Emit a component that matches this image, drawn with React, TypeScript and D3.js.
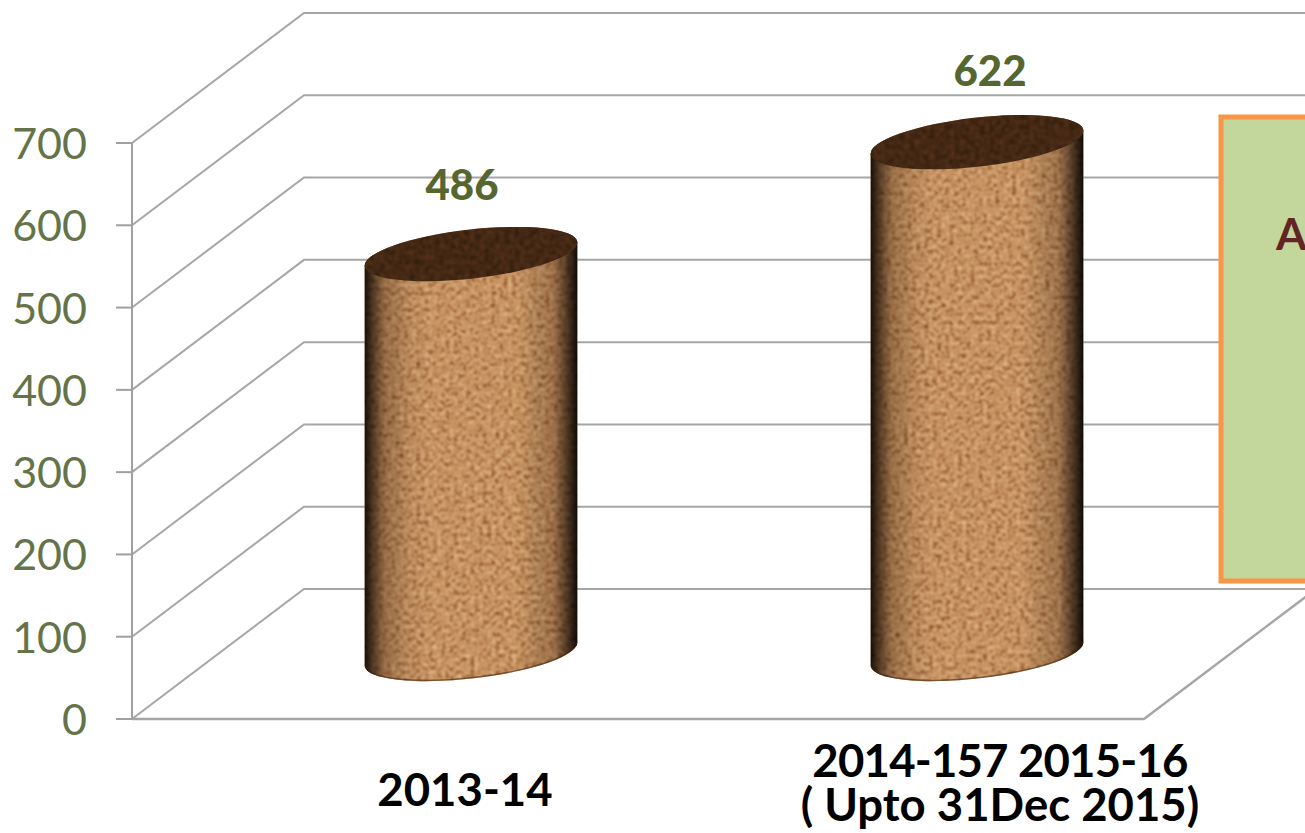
import React from "react";
import * as d3 from "d3";

const categories = ["2013-14", "2014-157 2015-16"];
const categorySecondLine = ["", "( Upto 31Dec 2015)"];
const values = [486, 622];
const yTicks = [0, 100, 200, 300, 400, 500, 600, 700];
const boxLetter = "A";

const W = 1305, H = 833;
const FONT = "Lato, Carlito, 'Open Sans', sans-serif";
const depthX = 172, depthY = -130;
const RX = 107, RY = 24.5, TILT = -6.5;

const y = d3.scaleLinear().domain([0, 700]).range([719, 143]);
const x = d3.scaleBand<string>().domain(categories).range([132, 1144]);

const labelDx = [-9, 13];
const labelDy = [-55, -57];
const catCx = [465, 1000];

function endpoints() {
  const a = (TILT * Math.PI) / 180;
  return { dx: RX * Math.cos(a), dy: RX * Math.sin(a) };
}

function body(cx: number, topY: number, botY: number) {
  const { dx, dy } = endpoints();
  return [
    `M${cx - dx},${topY - dy}`,
    `L${cx - dx},${botY - dy}`,
    `A${RX},${RY} ${TILT} 0 0 ${cx + dx},${botY + dy}`,
    `L${cx + dx},${topY + dy}`,
    `A${RX},${RY} ${TILT} 0 0 ${cx - dx},${topY - dy}`,
    "Z",
  ].join("");
}

function bottomArc(cx: number, botY: number) {
  const { dx, dy } = endpoints();
  return `M${cx - dx},${botY - dy}A${RX},${RY} ${TILT} 0 0 ${cx + dx},${botY + dy}`;
}

export default function App() {
  const grid = d3.path();
  yTicks.forEach((t) => {
    const yy = y(t);
    grid.moveTo(132, yy);
    grid.lineTo(132 + depthX, yy + depthY);
    grid.lineTo(1144 + depthX, yy + depthY);
  });
  const floor = d3.path();
  floor.moveTo(132, y(0));
  floor.lineTo(1144, y(0));
  floor.lineTo(1144 + depthX, y(0) + depthY);

  return (
    <svg
      width={W}
      height={H}
      viewBox={`0 0 ${W} ${H}`}
      style={{ position: "absolute", left: 0, top: 0, background: "#fff", display: "block" }}
    >
      <defs>
        <filter id="cork" x="0" y="0" width="100%" height="100%" colorInterpolationFilters="sRGB">
          <feTurbulence type="fractalNoise" baseFrequency="0.24" numOctaves={5} seed={11} />
          <feColorMatrix
            type="matrix"
            values="1 0 0 0 0  1 0 0 0 0  1 0 0 0 0  0 0 0 0 1"
          />
          <feComponentTransfer>
            <feFuncR type="table" tableValues="0.40 0.46 0.58 0.72 0.78 0.82 0.86 0.92 0.97" />
            <feFuncG type="table" tableValues="0.20 0.24 0.36 0.50 0.58 0.63 0.69 0.77 0.85" />
            <feFuncB type="table" tableValues="0.09 0.11 0.19 0.31 0.39 0.44 0.50 0.59 0.68" />
          </feComponentTransfer>
          <feGaussianBlur stdDeviation="0.8" />
        </filter>
        <filter id="corkDark" x="0" y="0" width="100%" height="100%" colorInterpolationFilters="sRGB">
          <feTurbulence type="fractalNoise" baseFrequency="0.2" numOctaves={3} seed={3} />
          <feColorMatrix
            type="matrix"
            values="1 0 0 0 0  1 0 0 0 0  1 0 0 0 0  0 0 0 0 1"
          />
          <feComponentTransfer>
            <feFuncR type="table" tableValues="0.14 0.20 0.27 0.33 0.40" />
            <feFuncG type="table" tableValues="0.08 0.12 0.16 0.19 0.22" />
            <feFuncB type="table" tableValues="0.04 0.06 0.08 0.10 0.12" />
          </feComponentTransfer>
          <feGaussianBlur stdDeviation="0.8" />
        </filter>
        <linearGradient id="shade" x1="0" x2="1" y1="0" y2="0">
          <stop offset="0" stopColor="#000" stopOpacity={0.92} />
          <stop offset="0.035" stopColor="#140a03" stopOpacity={0.72} />
          <stop offset="0.1" stopColor="#2a1506" stopOpacity={0.3} />
          <stop offset="0.22" stopColor="#2a1506" stopOpacity={0.06} />
          <stop offset="0.3" stopColor="#000" stopOpacity={0} />
          <stop offset="0.72" stopColor="#000" stopOpacity={0} />
          <stop offset="0.88" stopColor="#2a1506" stopOpacity={0.25} />
          <stop offset="0.96" stopColor="#0d0602" stopOpacity={0.72} />
          <stop offset="1" stopColor="#000" stopOpacity={0.95} />
        </linearGradient>
        {values.map((v, i) => {
          const cx = x(categories[i])! + x.bandwidth() / 2 + depthX / 2;
          return (
            <clipPath id={`body${i}`} key={i}>
              <path d={body(cx, y(v) + depthY / 2, y(0) + depthY / 2)} />
            </clipPath>
          );
        })}
      </defs>

      <path d={grid.toString()} fill="none" stroke="#a6a6a6" strokeWidth={2} />
      <path d={floor.toString()} fill="none" stroke="#a6a6a6" strokeWidth={2.5} />
      <line x1={132} x2={132} y1={y(700)} y2={y(0)} stroke="#a0a0a0" strokeWidth={2} />

      {yTicks.map((t) => (
        <g key={t}>
          <line x1={116} x2={132} y1={y(t)} y2={y(t)} stroke="#a0a0a0" strokeWidth={2} />
          <text
            x={87}
            y={y(t) + 16}
            textAnchor="end"
            fontFamily={FONT}
            fontSize={43}
            fill="#647348"
          >
            {t}
          </text>
        </g>
      ))}

      {values.map((v, i) => {
        const cx = x(categories[i])! + x.bandwidth() / 2 + depthX / 2;
        const topY = y(v) + depthY / 2;
        const botY = y(0) + depthY / 2;
        return (
          <g key={i}>
            <g clipPath={`url(#body${i})`}>
              <rect
                x={cx - RX - 2}
                y={topY - 40}
                width={2 * RX + 4}
                height={botY - topY + 80}
                filter="url(#cork)"
              />
              <rect
                x={cx - RX}
                y={topY - 40}
                width={2 * RX}
                height={botY - topY + 80}
                fill="url(#shade)"
              />
              <path d={bottomArc(cx, botY)} fill="none" stroke="#3a1f0c" strokeOpacity={0.55} strokeWidth={3} />
            </g>
            <clipPath id={`top${i}`}>
              <ellipse cx={0} cy={0} rx={RX} ry={RY} transform={`translate(${cx},${topY}) rotate(${TILT})`} />
            </clipPath>
            <g clipPath={`url(#top${i})`}>
              <rect
                x={cx - RX - 2}
                y={topY - 32}
                width={2 * RX + 4}
                height={64}
                filter="url(#corkDark)"
              />
            </g>
            <text
              x={cx + labelDx[i]}
              y={topY + labelDy[i] + 1}
              textAnchor="middle"
              fontFamily={FONT}
              fontWeight={900}
              fontSize={42}
              fill="#55672f"
            >
              {v}
            </text>
          </g>
        );
      })}

      <rect x={1221} y={117} width={200} height={464} fill="#c3d69b" stroke="#f79646" strokeWidth={5} />
      <text x={1276} y={250} fontFamily={FONT} fontWeight={700} fontSize={44} fill="#632523">
        {boxLetter}
      </text>

      {categories.map((c, i) => (
        <g key={c} fontFamily={FONT} fontWeight={700} fontSize={45.5} fill="#000" textAnchor="middle">
          {categorySecondLine[i] ? (
            <>
              <text x={catCx[i]} y={777} letterSpacing={-0.8}>{c}</text>
              <text x={catCx[i]} y={821}>{categorySecondLine[i]}</text>
            </>
          ) : (
            <text x={catCx[i]} y={806}>{c}</text>
          )}
        </g>
      ))}
    </svg>
  );
}
